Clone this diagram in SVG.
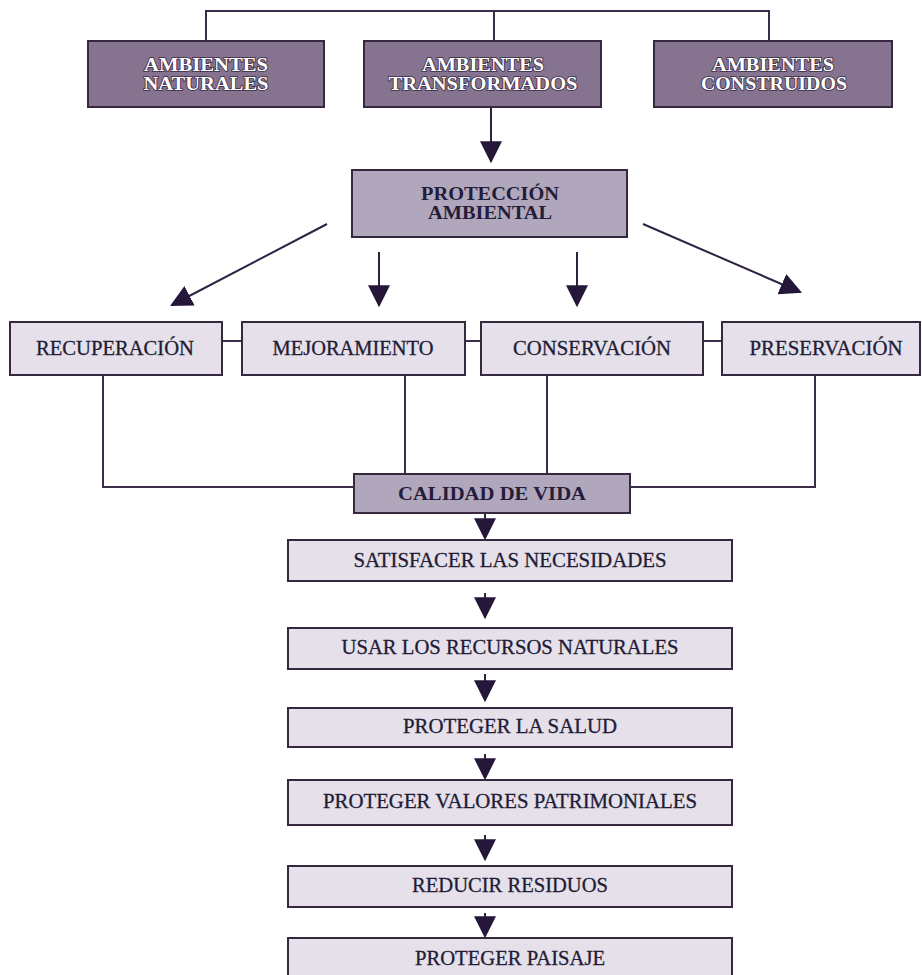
<svg xmlns="http://www.w3.org/2000/svg" width="922" height="975" viewBox="0 0 922 975">
<defs>
<style>
.dark{fill:#85738f;stroke:#35283f;stroke-width:2}
.mid{fill:#b1a7bd;stroke:#35283f;stroke-width:2}
.light{fill:#e5e0e9;stroke:#35283f;stroke-width:2}
.ln{fill:none;stroke:#3b2d47;stroke-width:2}
.arr{fill:none;stroke:#2e2240;stroke-width:2;marker-end:url(#ah)}
.wt{font-family:"Liberation Serif","Times New Roman",serif;font-weight:bold;font-size:19px;fill:#ffffff;stroke:#3a2c46;stroke-width:1.6px;paint-order:stroke;text-anchor:middle}
.bt{font-family:"Liberation Serif","Times New Roman",serif;font-weight:bold;font-size:19px;fill:#241d3a;text-anchor:middle}
.nt{font-family:"Liberation Serif","Times New Roman",serif;font-size:20px;fill:#221c36;stroke:#221c36;stroke-width:0.3px;text-anchor:middle}
</style>
<marker id="ah" markerUnits="userSpaceOnUse" markerWidth="22" markerHeight="22" viewBox="0 0 20 20" refX="18" refY="10" orient="auto">
<path d="M0,0 L20,10 L0,20 Z" fill="#24173a"/>
</marker>
</defs>
<rect width="922" height="975" fill="#ffffff"/>

<g id="connectors">
<path class="ln" d="M206,41 V11 H769 V41 M494,11 V41"/>
<line class="arr" x1="491" y1="107" x2="491" y2="161"/>
<line class="arr" x1="327" y1="224" x2="172" y2="305"/>
<line class="arr" x1="379" y1="252" x2="379" y2="305"/>
<line class="arr" x1="577" y1="252" x2="577" y2="305"/>
<line class="arr" x1="643" y1="224" x2="800" y2="292"/>
<path class="ln" d="M222,341 H242 M465,341 H481 M703,341 H722"/>
<path class="ln" d="M103,375 V487 H354 M405,375 V474 M547,375 V474 M815,375 V487 H630"/>
<line class="arr" x1="485" y1="513" x2="485" y2="538"/>
<line class="arr" x1="485" y1="593" x2="485" y2="617"/>
<line class="arr" x1="485" y1="674" x2="485" y2="700"/>
<line class="arr" x1="485" y1="754" x2="485" y2="778"/>
<line class="arr" x1="485" y1="835" x2="485" y2="859"/>
<line class="arr" x1="485" y1="913" x2="485" y2="936"/>
</g>

<g id="ambientes-naturales">
<rect class="dark" x="88" y="41" width="236" height="66"/>
<text class="wt" x="206" y="71" textLength="124" lengthAdjust="spacingAndGlyphs">AMBIENTES</text>
<text class="wt" x="206" y="90" textLength="125" lengthAdjust="spacingAndGlyphs">NATURALES</text>
</g>
<g id="ambientes-transformados">
<rect class="dark" x="364" y="41" width="237" height="66"/>
<text class="wt" x="483" y="71" textLength="122" lengthAdjust="spacingAndGlyphs">AMBIENTES</text>
<text class="wt" x="483" y="90" textLength="189" lengthAdjust="spacingAndGlyphs">TRANSFORMADOS</text>
</g>
<g id="ambientes-construidos">
<rect class="dark" x="654" y="41" width="238" height="66"/>
<text class="wt" x="773" y="71" textLength="122" lengthAdjust="spacingAndGlyphs">AMBIENTES</text>
<text class="wt" x="774" y="90" textLength="146" lengthAdjust="spacingAndGlyphs">CONSTRUIDOS</text>
</g>

<g id="proteccion-ambiental">
<rect class="mid" x="352" y="170" width="275" height="67"/>
<text class="bt" x="490" y="200" textLength="138" lengthAdjust="spacingAndGlyphs">PROTECCIÓN</text>
<text class="bt" x="490" y="219" textLength="124" lengthAdjust="spacingAndGlyphs">AMBIENTAL</text>
</g>

<g id="recuperacion">
<rect class="light" x="10" y="322" width="212" height="53"/>
<text class="nt" x="115" y="355" textLength="158" lengthAdjust="spacingAndGlyphs">RECUPERACIÓN</text>
</g>
<g id="mejoramiento">
<rect class="light" x="242" y="322" width="223" height="53"/>
<text class="nt" x="353" y="355" textLength="161" lengthAdjust="spacingAndGlyphs">MEJORAMIENTO</text>
</g>
<g id="conservacion">
<rect class="light" x="481" y="322" width="222" height="53"/>
<text class="nt" x="592" y="355" textLength="158" lengthAdjust="spacingAndGlyphs">CONSERVACIÓN</text>
</g>
<g id="preservacion">
<rect class="light" x="722" y="322" width="198" height="53"/>
<text class="nt" x="826" y="355" textLength="153" lengthAdjust="spacingAndGlyphs">PRESERVACIÓN</text>
</g>

<g id="calidad-de-vida">
<rect class="mid" x="354" y="474" width="276" height="39"/>
<text class="bt" x="492" y="500" textLength="188" lengthAdjust="spacingAndGlyphs">CALIDAD DE VIDA</text>
</g>

<g id="satisfacer">
<rect class="light" x="288" y="540" width="444" height="41"/>
<text class="nt" x="510" y="567" textLength="313" lengthAdjust="spacingAndGlyphs">SATISFACER LAS NECESIDADES</text>
</g>
<g id="usar-recursos">
<rect class="light" x="288" y="628" width="444" height="41"/>
<text class="nt" x="510" y="654" textLength="337" lengthAdjust="spacingAndGlyphs">USAR LOS RECURSOS NATURALES</text>
</g>
<g id="proteger-salud">
<rect class="light" x="288" y="708" width="444" height="39"/>
<text class="nt" x="510" y="733" textLength="214" lengthAdjust="spacingAndGlyphs">PROTEGER LA SALUD</text>
</g>
<g id="proteger-valores">
<rect class="light" x="288" y="780" width="444" height="45"/>
<text class="nt" x="510" y="808" textLength="374" lengthAdjust="spacingAndGlyphs">PROTEGER VALORES PATRIMONIALES</text>
</g>
<g id="reducir-residuos">
<rect class="light" x="288" y="866" width="444" height="41"/>
<text class="nt" x="510" y="892" textLength="196" lengthAdjust="spacingAndGlyphs">REDUCIR RESIDUOS</text>
</g>
<g id="proteger-paisaje">
<rect class="light" x="288" y="938" width="444" height="50"/>
<text class="nt" x="510" y="965" textLength="190" lengthAdjust="spacingAndGlyphs">PROTEGER PAISAJE</text>
</g>
</svg>
